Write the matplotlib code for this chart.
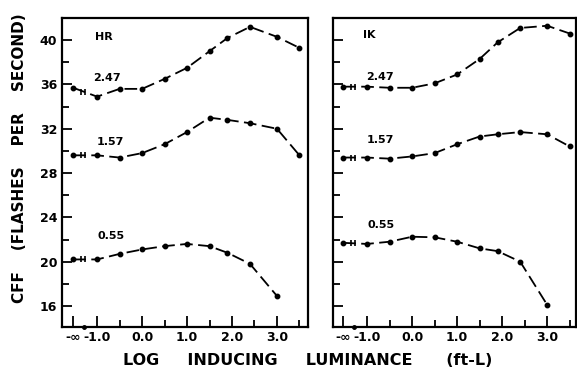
import matplotlib
matplotlib.use("Agg")
import matplotlib.pyplot as plt
from matplotlib.ticker import FixedLocator, FixedFormatter

NEG_INF = -1.53  # where the "-inf" column sits on the axis

# HR panel
hr_x = [NEG_INF, -1.0, -0.5, 0.0, 0.5, 1.0, 1.5, 1.9, 2.4, 3.0, 3.5]
hr_247 = [35.7, 34.9, 35.6, 35.6, 36.5, 37.5, 39.0, 40.2, 41.2, 40.3, 39.3]
hr_157 = [29.6, 29.6, 29.4, 29.8, 30.6, 31.7, 33.0, 32.8, 32.5, 32.0, 29.6]
hr_055 = [20.2, 20.2, 20.7, 21.1, 21.4, 21.6, 21.4, 20.8, 19.8, 16.9]

# IK panel
ik_x = [NEG_INF, -1.0, -0.5, 0.0, 0.5, 1.0, 1.5, 1.9, 2.4, 3.0, 3.5]
ik_247 = [35.8, 35.8, 35.7, 35.7, 36.1, 36.9, 38.3, 39.8, 41.1, 41.3, 40.6]
ik_157 = [29.4, 29.4, 29.3, 29.5, 29.8, 30.6, 31.3, 31.5, 31.7, 31.5, 30.4]
ik_055 = [21.7, 21.6, 21.8, 22.25, 22.2, 21.8, 21.2, 20.95, 20.0, 16.1]

series_labels = ["2.47", "1.57", "0.55"]
x_tick_pos = [NEG_INF, -1.0, 0.0, 1.0, 2.0, 3.0]
x_tick_labels = ["-\u221e", "-1.0", "0.0", "1.0", "2.0", "3.0"]
y_ticks = [16, 20, 24, 28, 32, 36, 40]

fig = plt.figure(figsize=(5.77, 3.70), dpi=100)
ax1 = fig.add_axes([62 / 577, 1 - 327 / 370, 246 / 577, 309 / 370])
ax2 = fig.add_axes([333 / 577, 1 - 327 / 370, 243 / 577, 309 / 370])

label_pos = {
    "HR": [(-1.09, 36.6), (-1.0, 30.8), (-1.0, 22.3), (-1.05, 40.3)],
    "IK": [(-1.02, 36.7), (-1.0, 31.0), (-1.0, 23.3), (-1.09, 40.45)],
}

panels = [
    (ax1, "HR", hr_x, [hr_247, hr_157, hr_055], (-1.78, 3.69)),
    (ax2, "IK", ik_x, [ik_247, ik_157, ik_055], (-1.756, 3.64)),
]

for ax, name, xs, ys_list, xlim in panels:
    for ys, lab, pos in zip(ys_list, series_labels, label_pos[name]):
        x = xs[:len(ys)]
        ax.plot(x, ys, color="black", lw=1.3, dashes=(7, 3),
                marker="o", ms=3.2, mfc="black", mec="black")
        # break symbol between the -inf point and the first finite one
        yb = (ys[0] + ys[1]) / 2
        ax.plot([-1.36, -1.27], [yb, yb], ls="none", marker="|",
                ms=5, mew=1.2, color="black")
        ax.text(pos[0], pos[1], lab, fontsize=8, fontweight="bold",
                ha="left", va="center")
    tx, ty = label_pos[name][3]
    ax.text(tx, ty, name, fontsize=8, fontweight="bold", ha="left", va="center")

    ax.set_xlim(*xlim)
    ax.set_ylim(14.1, 42.0)
    ax.xaxis.set_major_locator(FixedLocator(x_tick_pos))
    ax.xaxis.set_major_formatter(FixedFormatter(x_tick_labels))
    ax.xaxis.set_minor_locator(FixedLocator([-0.5, 0.5, 1.5, 2.5, 3.5]))
    ax.set_yticks(y_ticks)
    ax.yaxis.set_minor_locator(FixedLocator([18, 22, 26, 30, 34, 38, 42]))
    ax.tick_params(which="both", direction="in", width=1.3, color="black",
                   top=False, right=False)
    ax.tick_params(axis="x", which="major", length=8, pad=3, labelsize=9)
    ax.tick_params(axis="x", which="minor", length=5)
    ax.tick_params(axis="y", which="major", length=7, labelsize=9)
    ax.tick_params(axis="y", which="minor", length=5)
    for lbl in ax.get_xticklabels() + ax.get_yticklabels():
        lbl.set_fontweight("bold")
    for sp in ax.spines.values():
        sp.set_linewidth(1.6)
    # break mark on the x axis
    ax.plot([-1.3], [14.1], marker="o", ms=2.5, color="black", clip_on=False)

ax2.tick_params(axis="y", labelleft=False)

fig.text(0.034, 0.573, "CFF    (FLASHES    PER    SECOND)", rotation=90,
         fontsize=11, fontweight="bold", ha="center", va="center")
fig.text(0.534, 0.027, "LOG     INDUCING     LUMINANCE      (ft-L)",
         fontsize=11.5, fontweight="bold", ha="center", va="center")

fig.savefig("out.png", dpi=100)
